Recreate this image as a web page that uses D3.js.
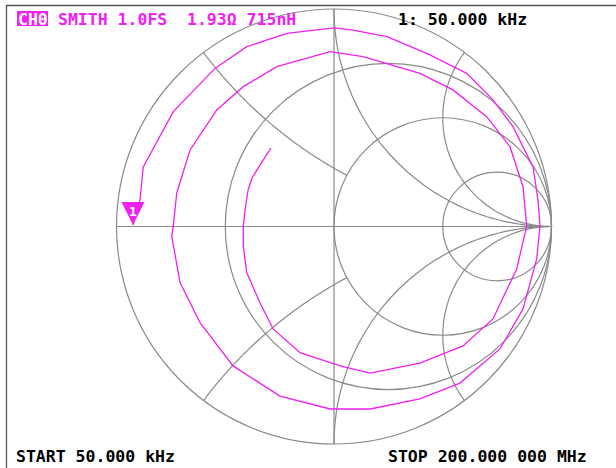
<!DOCTYPE html>
<html>
<head>
<meta charset="utf-8">
<script src="https://cdn.jsdelivr.net/npm/d3@7"></script>
<style>
  body { margin: 0; background: #fff; }
  text { font-family: "DejaVu Sans Mono", monospace; font-weight: bold; }
</style>
</head>
<body>
<div id="chart"></div>
<script>
// grid values (normalised impedance)
var rCircles = [1 / 3, 1, 3];
var xArcs = [0.5, 1, 2];
var xArcStop = [1, 1e4, 1e4]; // r where each reactance arc ends

// trace: reflection coefficient, real and imaginary parts
var gammaRe = [-0.924, -0.892, -0.877, -0.739, -0.547, -0.401, -0.217, 0.000, 0.087, 0.244,
    0.441, 0.610, 0.731, 0.823, 0.915, 0.938, 0.947, 0.932, 0.869, 0.763,
    0.579, 0.395, 0.166, -0.018, -0.248, -0.464, -0.616, -0.708, -0.746, -0.739,
    -0.723, -0.662, -0.539, -0.417, -0.263, -0.018, 0.133, 0.395, 0.547, 0.702,
    0.809, 0.869, 0.886, 0.840, 0.731, 0.593, 0.395, 0.166, 0.028, -0.156,
    -0.280, -0.340, -0.401, -0.417, -0.417, -0.409, -0.395, -0.377, -0.331, -0.290];
var gammaIm = [0.007, 0.122, 0.274, 0.528, 0.727, 0.827, 0.888, 0.913, 0.903, 0.873,
    0.789, 0.704, 0.582, 0.459, 0.274, 0.122, 0.002, -0.149, -0.379, -0.563,
    -0.720, -0.793, -0.839, -0.839, -0.780, -0.641, -0.442, -0.258, -0.044, 0.002,
    0.154, 0.352, 0.536, 0.643, 0.735, 0.804, 0.781, 0.704, 0.628, 0.505,
    0.367, 0.183, 0.002, -0.195, -0.425, -0.549, -0.628, -0.674, -0.641, -0.580,
    -0.471, -0.352, -0.212, -0.090, 0.002, 0.076, 0.168, 0.223, 0.297, 0.361];

var markerLabel = "1";
var headerLeft = ["SMITH 1.0FS", "1.93\u03A9 715nH"];
var headerRight = "1: 50.000 kHz";
var startLabel = "START 50.000 kHz";
var stopLabel = "STOP 200.000 000 MHz";

var width = 616, height = 468;
var cx = 334, cy = 226.5, R = 217.5;
var gridColor = "#8a8a8a", traceColor = "#f020f0";

var svg = d3.select("#chart").append("svg")
    .attr("width", width)
    .attr("height", height);

svg.append("rect").attr("width", width).attr("height", height).attr("fill", "#fff");

// frame (top and left)
svg.append("path")
    .attr("d", "M6.5," + height + "V5.5H" + width)
    .attr("fill", "none")
    .attr("stroke", "#555")
    .attr("stroke-width", 1.3);

var xScale = d3.scaleLinear().domain([-1, 1]).range([cx - R, cx + R]);
var yScale = d3.scaleLinear().domain([-1, 1]).range([cy + R, cy - R]);

var grid = svg.append("g")
    .attr("fill", "none")
    .attr("stroke", gridColor)
    .attr("stroke-width", 1.2);

// outer circle
grid.append("circle")
    .attr("cx", xScale(0)).attr("cy", yScale(0))
    .attr("r", xScale(1) - xScale(0));

// axes
grid.append("line")
    .attr("x1", xScale(-1)).attr("x2", xScale(1))
    .attr("y1", yScale(0)).attr("y2", yScale(0));
grid.append("line")
    .attr("x1", xScale(0)).attr("x2", xScale(0))
    .attr("y1", yScale(1)).attr("y2", yScale(-1));

// constant resistance circles
grid.selectAll(".rc").data(rCircles).enter().append("circle")
    .attr("class", "rc")
    .attr("cx", function(r) { return xScale(r / (1 + r)); })
    .attr("cy", yScale(0))
    .attr("r", function(r) { return xScale(1 / (1 + r)) - xScale(0); });

// z -> gamma
function toGamma(r, x) {
    var d = (r + 1) * (r + 1) + x * x;
    return [(r * r + x * x - 1) / d, (2 * x) / d];
}

var line = d3.line()
    .x(function(d) { return xScale(d[0]); })
    .y(function(d) { return yScale(d[1]); });

// constant reactance arcs
xArcs.forEach(function(x, i) {
    [1, -1].forEach(function(s) {
        var pts = [];
        for (var k = 0; k <= 400; k++) {
            var r = xArcStop[i] * Math.pow(k / 400, 3);
            pts.push(toGamma(r, s * x));
        }
        grid.append("path").attr("d", line(pts));
    });
});

// trace
var trace = gammaRe.map(function(re, i) { return [re, gammaIm[i]]; });
svg.append("path")
    .attr("d", line(trace))
    .attr("fill", "none")
    .attr("stroke", traceColor)
    .attr("stroke-width", 1.3);

// marker 1 at first point
var mx = xScale(trace[0][0]), my = yScale(trace[0][1]);
var mk = svg.append("g").attr("transform", "translate(" + mx + "," + my + ")");
mk.append("path")
    .attr("d", "M0,0L-11.5,-23H11.5Z")
    .attr("fill", traceColor);
mk.append("text")
    .attr("x", 0).attr("y", -9)
    .attr("text-anchor", "middle")
    .attr("font-size", "13px")
    .attr("fill", "#fff")
    .text(markerLabel);

// header
var fs = "16.5px";
svg.append("rect")
    .attr("x", 17).attr("y", 11).attr("width", 31).attr("height", 15)
    .attr("fill", traceColor);
svg.append("text")
    .attr("x", 18).attr("y", 25).attr("font-size", fs)
    .attr("fill", "#fff").text("CH0");
svg.selectAll(".hl").data(headerLeft).enter().append("text")
    .attr("class", "hl")
    .attr("x", function(d, i) { return [58, 187][i]; })
    .attr("y", 25)
    .attr("font-size", fs)
    .attr("fill", traceColor)
    .text(function(d) { return d; });
svg.append("text")
    .attr("x", 398).attr("y", 25).attr("font-size", fs)
    .attr("fill", "#000").text(headerRight);

// footer
svg.append("text")
    .attr("x", 16).attr("y", 462).attr("font-size", fs)
    .attr("fill", "#000").text(startLabel);
svg.append("text")
    .attr("x", 388).attr("y", 462).attr("font-size", fs)
    .attr("fill", "#000").text(stopLabel);
</script>
</body>
</html>
